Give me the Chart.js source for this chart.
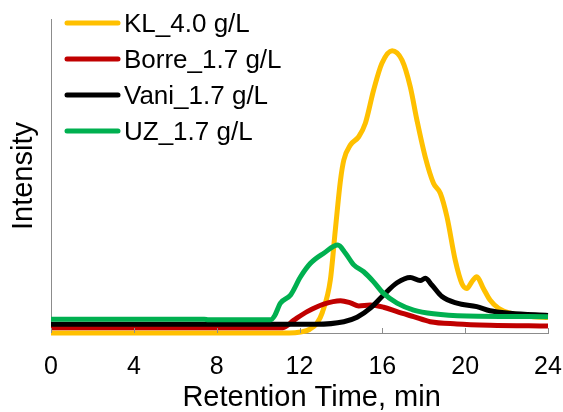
<!DOCTYPE html>
<html>
<head>
<meta charset="utf-8">
<script src="https://cdn.jsdelivr.net/npm/chart.js@4"></script>
<style>
  html, body { margin: 0; padding: 0; background: #fff; }
  #wrap { width: 563px; height: 412px; }
</style>
</head>
<body>
<div id="wrap"><canvas id="myChart" width="563" height="412"></canvas></div>
<script>
const seriesNames = ["KL_4.0 g/L", "Borre_1.7 g/L", "Vani_1.7 g/L", "UZ_1.7 g/L"];
const seriesColors = ["#FFC000", "#C00000", "#000000", "#00B050"];
const xTicks = [0, 4, 8, 12, 16, 20, 24];

// retention time (min) / intensity (arbitrary units)
const klTime = [0, 11.5, 12.05, 12.5, 12.85, 13.1, 13.49, 13.73, 13.98, 14.14, 14.46, 14.86, 15.18, 15.58, 15.98, 16.47, 16.95, 17.35, 17.67, 18.07, 18.47, 18.8, 19.12, 19.52, 19.84, 20.08, 20.32, 20.56, 20.88, 21.2, 21.61, 22.17, 23.3, 24];
const klIntensity = [0, 0, 0.3, 1.2, 3.2, 6.5, 16.9, 32.8, 48.7, 55.1, 59.9, 62.5, 66.8, 77.4, 85.9, 89.9, 86.9, 78.4, 67.8, 56.1, 47.7, 44.5, 37.0, 23.2, 15.8, 14.2, 16.3, 17.9, 14.2, 10.5, 7.9, 6.3, 5.2, 4.9];

const borreTime = [0, 11.2, 11.73, 12.37, 13.17, 13.98, 14.46, 14.86, 15.42, 16.06, 16.71, 17.51, 18.31, 19.6, 21.2, 24];
const borreIntensity = [1.7, 1.7, 4.1, 6.8, 9.2, 10.3, 9.6, 8.6, 8.9, 8.2, 6.8, 5.2, 3.6, 2.9, 2.5, 2.2];

const vaniTime = [0, 12.8, 14.14, 14.78, 15.42, 16.06, 16.71, 17.35, 17.83, 18.07, 18.39, 18.88, 19.6, 20.56, 21.2, 22.17, 24];
const vaniIntensity = [2.8, 2.8, 3.6, 5.0, 7.9, 12.1, 16.0, 17.7, 16.7, 17.4, 15.3, 11.6, 9.5, 8.4, 7.1, 6.3, 5.6];

const uzTime = [0, 7.4, 7.6, 10.6, 10.8, 11.08, 11.57, 12.05, 12.53, 13.17, 13.85, 14.22, 14.62, 15.1, 15.58, 16.06, 16.71, 17.51, 18.47, 20.08, 24];
const uzIntensity = [4.4, 4.4, 4.2, 4.2, 5.5, 9.5, 12.1, 17.9, 22.2, 25.4, 28.0, 25.4, 21.7, 19.5, 16.3, 12.6, 9.5, 7.3, 6.1, 5.4, 5.2];

const times = [klTime, borreTime, vaniTime, uzTime];
const values = [klIntensity, borreIntensity, vaniIntensity, uzIntensity];

const FONT = "'Liberation Sans', Arial, sans-serif";
const AXIS_GRAY = "#8c8c8c";

// legend drawn inside the plot, top left
const legendBox = {
  id: "legendBox",
  afterDraw(chart) {
    const ctx = chart.ctx;
    ctx.save();
    ctx.font = "26px " + FONT;
    ctx.textBaseline = "alphabetic";
    ctx.textAlign = "left";
    seriesNames.forEach((name, i) => {
      const y = 23 + i * 36;
      ctx.strokeStyle = seriesColors[i];
      ctx.lineWidth = 5;
      ctx.lineCap = "round";
      ctx.beginPath();
      ctx.moveTo(67, y);
      ctx.lineTo(118, y);
      ctx.stroke();
      ctx.fillStyle = "#000";
      ctx.fillText(name, 124, y + 9.3);
    });
    ctx.restore();
  }
};

// small tick marks pointing into the plot
const insideTicks = {
  id: "insideTicks",
  afterDatasetsDraw(chart) {
    const ctx = chart.ctx;
    const xs = chart.scales.x;
    const bottom = chart.chartArea.bottom;
    ctx.save();
    ctx.strokeStyle = AXIS_GRAY;
    ctx.lineWidth = 1;
    xTicks.forEach(t => {
      const px = Math.round(xs.getPixelForValue(t)) + 0.5;
      ctx.beginPath();
      ctx.moveTo(px, bottom);
      ctx.lineTo(px, bottom - 5);
      ctx.stroke();
    });
    ctx.restore();
  }
};

const datasets = seriesNames.map((name, i) => ({
  label: name,
  data: times[i].map((t, j) => ({ x: t, y: values[i][j] })),
  borderColor: seriesColors[i],
  backgroundColor: seriesColors[i],
  borderWidth: 5,
  pointRadius: 0,
  cubicInterpolationMode: "monotone",
  fill: false,
  clip: 6,
  order: 4 - i
}));

const ctx = document.getElementById("myChart").getContext("2d");
const myChart = new Chart(ctx, {
  type: "line",
  data: { datasets: datasets },
  options: {
    responsive: false,
    animation: false,
    events: [],
    layout: { padding: { top: 19, right: 15, left: 0, bottom: 0 } },
    plugins: { legend: { display: false }, tooltip: { enabled: false } },
    scales: {
      x: {
        type: "linear",
        min: 0,
        max: 24,
        afterBuildTicks: s => { s.ticks = xTicks.map(v => ({ value: v })); },
        afterFit: s => { s.height = 79; s.paddingLeft = 0; s.paddingRight = 0; },
        grid: { display: false, drawTicks: false },
        border: { display: true, color: AXIS_GRAY, width: 1 },
        ticks: {
          color: "#000",
          font: { family: FONT, size: 25, lineHeight: 1 },
          padding: 22,
          maxRotation: 0
        },
        title: {
          display: true,
          text: "   Retention Time, min",
          color: "#000",
          font: { family: FONT, size: 29, lineHeight: 1 },
          padding: { top: 0, bottom: 0 }
        }
      },
      y: {
        min: 0,
        max: 100,
        afterFit: s => { s.width = 51; s.paddingTop = 0; s.paddingBottom = 0; },
        grid: { display: false, drawTicks: false },
        border: { display: true, color: AXIS_GRAY, width: 1 },
        ticks: { display: false },
        title: {
          display: true,
          text: "Intensity",
          color: "#000",
          font: { family: FONT, size: 29, lineHeight: 1 },
          padding: { top: 9, bottom: 0 }
        }
      }
    }
  },
  plugins: [insideTicks, legendBox]
});
</script>
</body>
</html>
